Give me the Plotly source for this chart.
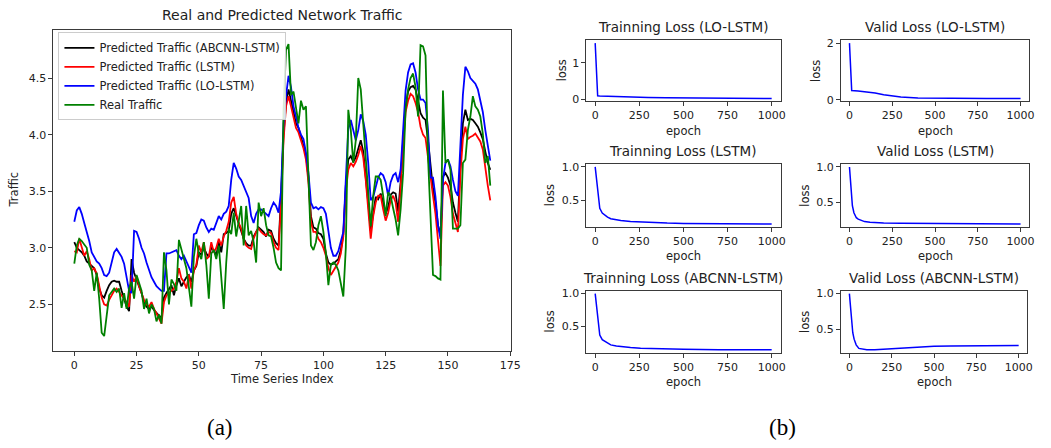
import plotly.graph_objects as go

W, H = 1051, 448

# ---------------- data: main traffic chart ----------------
time_index = list(range(168))

real_traffic = [
    2.86, 3.02, 3.08, 3.06, 3.03, 3.00, 2.85, 2.80, 2.62, 2.78,
    2.55, 2.25, 2.22, 2.42, 2.58, 2.61, 2.64, 2.61, 2.64, 2.47,
    2.60, 2.46, 2.64, 2.70, 2.55, 2.76, 2.68, 2.62, 2.46, 2.55,
    2.42, 2.50, 2.46, 2.35, 2.41, 2.33, 2.96, 2.80, 2.50, 2.72,
    2.68, 2.62, 3.07, 2.99, 2.90, 2.82, 2.65, 2.48, 2.92, 3.08,
    2.95, 2.90, 3.05, 2.85, 2.55, 2.95, 2.98, 2.90, 3.02, 2.70,
    2.46, 2.87, 3.17, 3.12, 3.31, 3.10, 3.22, 3.37, 3.02, 3.37,
    3.11, 3.15, 3.05, 2.87, 3.40, 3.28, 3.35, 3.20, 3.11, 3.10,
    3.00, 2.87, 2.82, 2.80, 4.22, 4.75, 4.80, 4.35, 4.38, 4.25,
    4.10, 4.30, 4.22, 4.25, 3.69, 3.02, 2.98, 3.05, 3.20, 3.28,
    3.14, 2.95, 2.67, 2.85, 2.87, 2.85, 2.80, 2.70, 2.57, 3.00,
    4.22, 4.04, 3.75, 3.95, 4.50, 4.40, 4.10, 3.80, 3.45, 3.19,
    3.46, 3.63, 3.63, 3.60, 3.46, 3.28, 3.49, 3.46, 3.35, 3.25,
    3.11, 3.34, 3.66, 4.22, 4.40, 4.50, 4.54, 4.42, 4.16, 4.79,
    4.78, 4.70, 3.80, 3.30, 2.76, 2.75, 2.73, 2.72, 4.39, 3.75,
    3.78, 3.69, 3.17, 3.17, 3.17, 3.20, 3.75, 3.78, 4.04, 4.16,
    4.34, 4.25, 4.22, 4.16, 4.01, 3.75, 3.81, 3.55,
]

pred_lolstm = [
    3.23, 3.33, 3.36, 3.30, 3.22, 3.15, 3.06, 2.96, 2.92, 2.88,
    2.86, 2.82, 2.76, 2.75, 2.78, 2.88, 2.96, 2.99, 2.95, 2.92,
    2.86, 2.72, 2.62, 2.60, 3.15, 3.14, 3.08, 3.00, 2.95, 2.87,
    2.80, 2.74, 2.70, 2.66, 2.64, 2.62, 2.62, 2.95, 2.95, 2.96,
    2.97, 2.98, 2.93, 2.90, 2.93, 2.88, 2.82, 2.78, 3.12, 3.13,
    3.20, 3.25, 3.24, 3.18, 3.14, 3.17, 3.16, 3.22, 3.28, 3.25,
    3.30, 3.32, 3.37, 3.60, 3.75, 3.70, 3.63, 3.60, 3.55, 3.50,
    3.44, 3.28, 3.22, 3.30, 3.34, 3.34, 3.32, 3.30, 3.28, 3.35,
    3.40, 3.37, 3.31, 3.50, 4.10, 4.34, 4.52, 4.42, 4.25, 4.16,
    4.06, 4.00, 3.96, 3.84, 3.66, 3.40, 3.35, 3.36, 3.34, 3.36,
    3.35, 3.30, 3.15, 3.00, 2.93, 2.93, 2.97, 3.05, 3.14, 3.60,
    4.05, 4.13, 4.05, 3.95, 4.04, 4.18, 4.12, 4.00, 3.75, 3.42,
    3.45, 3.55, 3.62, 3.66, 3.64, 3.58, 3.46, 3.58, 3.64, 3.66,
    3.58, 3.69, 4.04, 4.39, 4.55, 4.62, 4.63, 4.55, 4.40, 4.31,
    4.31, 4.28, 4.04, 3.62, 3.62, 3.45, 3.20, 3.08, 3.60, 3.75,
    3.78, 3.72, 3.60, 3.50, 3.46, 3.85, 4.35, 4.60, 4.56, 4.50,
    4.47, 4.45, 4.40, 4.30, 4.20, 4.04, 3.90, 3.77,
]

pred_lstm = [
    2.97, 2.96, 3.08, 3.00, 2.93, 2.97, 2.90, 2.80, 2.82, 2.77,
    2.66, 2.56, 2.50, 2.49, 2.54, 2.58, 2.62, 2.64, 2.61, 2.58,
    2.56, 2.52, 2.48, 2.76, 2.70, 2.75, 2.66, 2.60, 2.54, 2.50,
    2.48, 2.52, 2.46, 2.42, 2.38, 2.33, 2.52, 2.58, 2.60, 2.62,
    2.64, 2.70, 2.82, 2.73, 2.70, 2.64, 2.76, 2.64, 2.80, 2.85,
    3.02, 2.96, 3.05, 2.90, 2.92, 3.05, 2.96, 3.00, 3.08, 3.02,
    3.10, 3.15, 3.23, 3.40, 3.45, 3.30, 3.22, 3.17, 3.08, 3.02,
    3.00, 2.99, 3.08, 3.14, 3.17, 3.14, 3.12, 3.11, 3.14, 3.13,
    3.05, 3.00, 2.98, 3.40, 3.95, 4.25, 4.34, 4.25, 4.15, 4.06,
    4.02, 3.95, 3.88, 3.78, 3.58, 3.23, 3.14, 3.14, 3.08, 3.05,
    3.00, 2.93, 2.82, 2.76, 2.80, 2.84, 2.87, 2.95, 3.10, 3.50,
    3.69, 3.75, 3.72, 3.76, 3.82, 3.90, 3.80, 3.60, 3.35, 3.08,
    3.28, 3.40, 3.46, 3.46, 3.34, 3.24, 3.31, 3.42, 3.46, 3.40,
    3.23, 3.52, 3.90, 4.20, 4.30, 4.36, 4.34, 4.28, 4.20, 4.07,
    4.00, 3.97, 3.80, 3.60, 3.46, 3.30, 3.05, 2.84, 3.55, 3.58,
    3.55, 3.45, 3.30, 3.22, 3.14, 3.65, 3.96, 4.07, 3.96, 3.98,
    3.99, 4.01, 3.98, 3.94, 3.87, 3.69, 3.55, 3.42,
]

pred_abcnn = [
    3.05, 3.00, 2.98, 2.96, 2.93, 2.88, 2.86, 2.84, 2.82, 2.76,
    2.64, 2.58, 2.56, 2.62, 2.67, 2.70, 2.71, 2.70, 2.70, 2.62,
    2.55, 2.48, 2.44, 2.90, 2.78, 2.72, 2.66, 2.60, 2.52, 2.48,
    2.46, 2.48, 2.45, 2.42, 2.40, 2.38, 2.56, 2.60, 2.64, 2.67,
    2.58, 2.67, 2.73, 2.66, 2.70, 2.74, 2.76, 2.70, 2.80, 2.84,
    2.96, 2.94, 3.00, 2.95, 2.92, 3.00, 2.98, 2.93, 3.05, 2.96,
    3.12, 3.13, 3.15, 3.30, 3.35, 3.28, 3.20, 3.15, 3.08, 3.04,
    3.02, 3.02, 3.10, 3.14, 3.18, 3.16, 3.14, 3.10, 3.16, 3.15,
    3.08, 3.04, 3.02, 3.45, 4.00, 4.28, 4.40, 4.30, 4.20, 4.10,
    4.06, 3.98, 3.92, 3.82, 3.62, 3.28, 3.18, 3.17, 3.13, 3.12,
    3.08, 2.95, 2.87, 2.85, 2.86, 2.88, 2.90, 2.98, 3.12, 3.55,
    3.78, 3.81, 3.76, 3.80, 3.88, 3.95, 3.85, 3.65, 3.40, 3.15,
    3.32, 3.45, 3.43, 3.48, 3.40, 3.30, 3.36, 3.47, 3.49, 3.48,
    3.32, 3.58, 3.95, 4.25, 4.38, 4.42, 4.43, 4.40, 4.30, 4.19,
    4.15, 4.13, 3.95, 3.70, 3.52, 3.40, 3.20, 3.11, 3.63, 3.66,
    3.62, 3.55, 3.40, 3.31, 3.23, 3.75, 4.10, 4.22, 4.13, 4.14,
    4.13, 4.10, 4.07, 4.02, 3.96, 3.85, 3.75, 3.69,
]

series_names = [
    "Predicted Traffic (ABCNN-LSTM)",
    "Predicted Traffic (LSTM)",
    "Predicted Traffic (LO-LSTM)",
    "Real Traffic",
]

# ---------------- data: loss curves ----------------
ep_train_lolstm = [0, 5, 10, 14, 25, 50, 100, 150, 200, 250, 300, 400, 500, 600, 700, 800, 900, 1000]
loss_train_lolstm = [1.55, 1.00, 0.45, 0.09, 0.085, 0.08, 0.072, 0.065, 0.058, 0.052, 0.046, 0.038, 0.032, 0.028, 0.025, 0.023, 0.022, 0.02]

ep_valid_lolstm = [0, 13, 50, 100, 150, 200, 250, 300, 400, 500, 600, 800, 1000]
loss_valid_lolstm = [2.00, 0.33, 0.31, 0.28, 0.24, 0.18, 0.13, 0.10, 0.07, 0.06, 0.055, 0.05, 0.05]

ep_train_lstm = [0, 8, 17, 26, 40, 51, 70, 88, 120, 145, 200, 257, 300, 408, 500, 700, 1000]
loss_train_lstm = [1.00, 0.80, 0.58, 0.38, 0.31, 0.285, 0.25, 0.225, 0.21, 0.20, 0.185, 0.175, 0.17, 0.16, 0.155, 0.15, 0.145]

ep_valid_lstm = [0, 8, 17, 26, 40, 51, 70, 88, 120, 145, 200, 300, 500, 700, 1000]
loss_valid_lstm = [1.00, 0.75, 0.45, 0.35, 0.28, 0.26, 0.24, 0.225, 0.215, 0.21, 0.205, 0.20, 0.195, 0.19, 0.19]

ep_train_abcnn = [0, 8, 17, 26, 40, 51, 70, 88, 120, 145, 200, 257, 300, 408, 500, 700, 1000]
loss_train_abcnn = [1.00, 0.78, 0.55, 0.37, 0.30, 0.28, 0.245, 0.22, 0.205, 0.195, 0.18, 0.17, 0.165, 0.158, 0.153, 0.148, 0.145]

ep_valid_abcnn = [0, 6, 13, 20, 28, 40, 56, 80, 103, 150, 200, 250, 300, 366, 430, 500, 600, 800, 1000]
loss_valid_abcnn = [1.00, 0.80, 0.57, 0.45, 0.36, 0.28, 0.23, 0.215, 0.21, 0.212, 0.22, 0.225, 0.235, 0.245, 0.255, 0.26, 0.265, 0.27, 0.272]

loss_titles = [
    "Trainning Loss (LO-LSTM)", "Valid Loss (LO-LSTM)",
    "Trainning Loss (LSTM)", "Valid Loss (LSTM)",
    "Trainning Loss (ABCNN-LSTM)", "Valid Loss (ABCNN-LSTM)",
]
loss_ticks = [[0, 1], [0, 2], [0.5, 1.0], [0.5, 1.0], [0.5, 1.0], [0.5, 1.0]]
epoch_ticks = [0, 250, 500, 750, 1000]
traffic_xticks = [0, 25, 50, 75, 100, 125, 150, 175]
traffic_yticks = [2.5, 3.0, 3.5, 4.0, 4.5]

# ---------------- helpers ----------------
def fx(p):
    return p / W

def fy(p):
    return 1 - p / H

def padded(vals_list, frac=0.05):
    lo = min(min(v) for v in vals_list)
    hi = max(max(v) for v in vals_list)
    m = (hi - lo) * frac
    return [lo - m, hi + m]

FONT = "DejaVu Sans"
AX_LINE = "#3a3a3a"
TXT = "#222222"

fig = go.Figure()

# main traffic chart
colors = ["black", "red", "blue", "#008000"]
for name, vals, col in zip(series_names, [pred_abcnn, pred_lstm, pred_lolstm, real_traffic], colors):
    fig.add_trace(go.Scatter(
        x=time_index, y=vals, mode="lines", name=name,
        line=dict(color=col, width=1.8),
        xaxis="x", yaxis="y",
    ))

# loss panels
loss_data = [
    (ep_train_lolstm, loss_train_lolstm),
    (ep_valid_lolstm, loss_valid_lolstm),
    (ep_train_lstm, loss_train_lstm),
    (ep_valid_lstm, loss_valid_lstm),
    (ep_train_abcnn, loss_train_abcnn),
    (ep_valid_abcnn, loss_valid_abcnn),
]
for k, (ep, ls) in enumerate(loss_data):
    n = k + 2
    fig.add_trace(go.Scatter(
        x=ep, y=ls, mode="lines", showlegend=False,
        line=dict(color="blue", width=1.5),
        xaxis=f"x{n}", yaxis=f"y{n}",
    ))

def axis_style(**kw):
    d = dict(
        showline=True, mirror=True, linecolor=AX_LINE, linewidth=1,
        ticks="outside", ticklen=4, tickwidth=1, tickcolor=AX_LINE,
        showgrid=False, zeroline=False,
        tickfont=dict(family=FONT, size=11, color=TXT),
    )
    d.update(kw)
    return d

layout = dict(
    width=W, height=H,
    margin=dict(l=0, r=0, t=0, b=0),
    paper_bgcolor="white", plot_bgcolor="white",
    font=dict(family=FONT, color=TXT),
    showlegend=True,
    legend=dict(
        x=fx(59), y=fy(30), xanchor="left", yanchor="top",
        bgcolor="rgba(255,255,255,0.85)", bordercolor="#cccccc", borderwidth=1,
        font=dict(family=FONT, size=11.5, color=TXT),
        tracegroupgap=0, itemwidth=30,
    ),
)

layout["xaxis"] = axis_style(
    domain=[fx(54), fx(516)], anchor="y",
    range=padded([time_index]), tickvals=traffic_xticks,
)
layout["yaxis"] = axis_style(
    domain=[fy(354), fy(27)], anchor="x",
    range=padded([real_traffic, pred_abcnn, pred_lstm, pred_lolstm]),
    tickvals=traffic_yticks, tickformat=".1f",
)

# panel boxes (pixel coords): left, right, top, bottom
boxes = [
    (592, 788, 38, 100),
    (849, 1039, 38, 100),
    (592, 788, 164, 228),
    (849, 1039, 164, 228),
    (592, 788, 293, 356),
    (849, 1037, 293, 356),
]
annotations = []
for k, (l, r, t, b) in enumerate(boxes):
    n = k + 2
    ep, ls = loss_data[k]
    tv = loss_ticks[k]
    fmt = ".1f" if isinstance(tv[0], float) else "d"
    layout[f"xaxis{n}"] = axis_style(
        domain=[fx(l), fx(r)], anchor=f"y{n}",
        range=padded([ep]), tickvals=epoch_ticks,
    )
    layout[f"yaxis{n}"] = axis_style(
        domain=[fy(b), fy(t)], anchor=f"x{n}",
        range=padded([ls]), tickvals=tv, tickformat=fmt,
    )
    annotations.append(dict(
        text=loss_titles[k], x=fx((l + r) / 2), y=fy(t - 3),
        xref="paper", yref="paper", xanchor="center", yanchor="bottom",
        showarrow=False, font=dict(family=FONT, size=13.5, color=TXT),
    ))
    annotations.append(dict(
        text="epoch", x=fx((l + r) / 2), y=fy(b + 30),
        xref="paper", yref="paper", xanchor="center", yanchor="middle",
        showarrow=False, font=dict(family=FONT, size=11.5, color=TXT),
    ))
    label_x = l - (25 if fmt == "d" else 37)
    annotations.append(dict(
        text="loss", x=fx(label_x), y=fy((t + b) / 2),
        xref="paper", yref="paper", xanchor="center", yanchor="middle",
        textangle=-90, showarrow=False, font=dict(family=FONT, size=11.5, color=TXT),
    ))

annotations += [
    dict(text="Real and Predicted Network Traffic", x=fx(285), y=fy(12),
         xref="paper", yref="paper", xanchor="center", yanchor="middle",
         showarrow=False, font=dict(family=FONT, size=14, color=TXT)),
    dict(text="Time Series Index", x=fx(285), y=fy(383),
         xref="paper", yref="paper", xanchor="center", yanchor="middle",
         showarrow=False, font=dict(family=FONT, size=11.5, color=TXT)),
    dict(text="Traffic", x=fx(14), y=fy(190),
         xref="paper", yref="paper", xanchor="center", yanchor="middle",
         textangle=-90, showarrow=False, font=dict(family=FONT, size=11.5, color=TXT)),
    dict(text="(a)", x=fx(222), y=fy(432),
         xref="paper", yref="paper", xanchor="center", yanchor="middle",
         showarrow=False, font=dict(family="Liberation Serif", size=23, color="black")),
    dict(text="(b)", x=fx(790), y=fy(432),
         xref="paper", yref="paper", xanchor="center", yanchor="middle",
         showarrow=False, font=dict(family="Liberation Serif", size=23, color="black")),
]
layout["annotations"] = annotations

fig.update_layout(**layout)
fig.write_html(
    "out.html",
    config={"displayModeBar": False},
    post_script="document.body.style.margin='0';document.body.style.padding='0';",
)
